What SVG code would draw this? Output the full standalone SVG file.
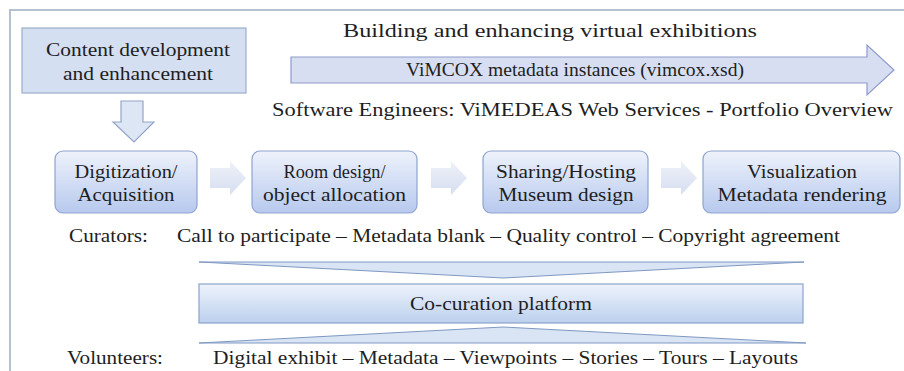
<svg xmlns="http://www.w3.org/2000/svg" width="904" height="371" viewBox="0 0 904 371" font-family="'Liberation Serif', 'DejaVu Serif', 'Times New Roman', serif">
<defs>
<linearGradient id="gBox" x1="0" y1="0" x2="0" y2="1">
<stop offset="0" stop-color="#eef2fb"/>
<stop offset="1" stop-color="#b7c9ee"/>
</linearGradient>
<linearGradient id="gBar" x1="0" y1="0" x2="0" y2="1">
<stop offset="0" stop-color="#eef3fb"/>
<stop offset="1" stop-color="#bcd0ee"/>
</linearGradient>
<linearGradient id="gChev" x1="0" y1="0" x2="0" y2="1">
<stop offset="0" stop-color="#eef1f8"/>
<stop offset="1" stop-color="#d6def0"/>
</linearGradient>
<style>
text{font-family:'Liberation Serif','DejaVu Serif','Times New Roman',serif;fill:#1e1e1e;font-size:19px;}
.c{text-anchor:middle;}
.pbox{fill:url(#gBox);stroke:#8ea4cf;stroke-width:1.2;}
.chev{fill:url(#gChev);stroke:none;}
.wedge{fill:#d9e4f4;stroke:#7f98c2;stroke-width:1;}
</style>
</defs>
<rect width="904" height="371" fill="#ffffff"/>
<g id="frame">
<path d="M10,371 V10 H904" fill="none" stroke="#b5c1cf" stroke-width="2"/>
</g>
<g id="content">
<rect x="22" y="28" width="224" height="65" fill="#d5dff2" stroke="#9badcc" stroke-width="1.2"/>
<text class="c" x="138" y="56" textLength="184" lengthAdjust="spacingAndGlyphs">Content development</text>
<text class="c" x="138" y="80" textLength="150" lengthAdjust="spacingAndGlyphs">and enhancement</text>
</g>
<g id="title">
<text x="343" y="37" textLength="414" lengthAdjust="spacingAndGlyphs">Building and enhancing virtual exhibitions</text>
</g>
<g id="vimcox">
<path d="M291,57 H867 V45 L894,70 L867,95 V83 H291 Z" fill="#d8def1" stroke="#8e9bcb" stroke-width="1.2"/>
<text x="406" y="76" textLength="338" lengthAdjust="spacingAndGlyphs">ViMCOX metadata instances (vimcox.xsd)</text>
</g>
<g id="software">
<text x="272" y="116" textLength="621" lengthAdjust="spacingAndGlyphs">Software Engineers: ViMEDEAS  Web Services - Portfolio Overview</text>
</g>
<g id="digitization">
<rect class="pbox" x="55" y="151" width="142" height="62" rx="8"/>
<text class="c" x="126" y="178" textLength="103" lengthAdjust="spacingAndGlyphs">Digitization/</text>
<text class="c" x="126" y="201" textLength="97" lengthAdjust="spacingAndGlyphs">Acquisition</text>
</g>
<g id="room">
<rect class="pbox" x="252" y="151" width="165" height="62" rx="8"/>
<text class="c" x="334.5" y="178" textLength="102" lengthAdjust="spacingAndGlyphs">Room design/</text>
<text class="c" x="334.5" y="201" textLength="143" lengthAdjust="spacingAndGlyphs">object allocation</text>
</g>
<g id="sharing">
<rect class="pbox" x="483" y="151" width="165" height="62" rx="8"/>
<text class="c" x="566" y="178" textLength="140" lengthAdjust="spacingAndGlyphs">Sharing/Hosting</text>
<text class="c" x="566" y="201" textLength="135" lengthAdjust="spacingAndGlyphs">Museum design</text>
</g>
<g id="visualization">
<rect class="pbox" x="703" y="151" width="197" height="62" rx="8"/>
<text class="c" x="802" y="178" textLength="110" lengthAdjust="spacingAndGlyphs">Visualization</text>
<text class="c" x="802" y="201" textLength="169" lengthAdjust="spacingAndGlyphs">Metadata rendering</text>
</g>
<g id="curators">
<text x="69" y="242" textLength="79" lengthAdjust="spacingAndGlyphs">Curators:</text>
<text x="177" y="242" textLength="663" lengthAdjust="spacingAndGlyphs">Call to participate – Metadata blank – Quality control – Copyright agreement</text>
</g>
<g id="cocuration">
<rect x="199" y="284" width="604" height="39" fill="url(#gBar)" stroke="#8aa3cc" stroke-width="1.2"/>
<text x="410" y="310" textLength="182" lengthAdjust="spacingAndGlyphs">Co-curation platform</text>
</g>
<g id="volunteers">
<text x="67" y="364" textLength="96" lengthAdjust="spacingAndGlyphs">Volunteers:</text>
<text x="213" y="364" textLength="585" lengthAdjust="spacingAndGlyphs">Digital exhibit – Metadata – Viewpoints – Stories – Tours – Layouts</text>
</g>
<g id="connectors">
<path d="M121,101 H143 V122 H154 L134,142 L113,122 H121 Z" fill="#dde6f5" stroke="#93a6c8" stroke-width="1.2"/>
<path class="chev" d="M210,168 H230 V161 L246,178 L230,195 V188 H210 Z"/>
<path class="chev" d="M431,168 H451 V161 L467,178 L451,195 V188 H431 Z"/>
<path class="chev" d="M661,168 H681 V161 L697,178 L681,195 V188 H661 Z"/>
<path class="wedge" d="M199,262 H804 L503,278 Z"/>
<path class="wedge" d="M199,343 H806 L503,327 Z"/>
</g>
</svg>
